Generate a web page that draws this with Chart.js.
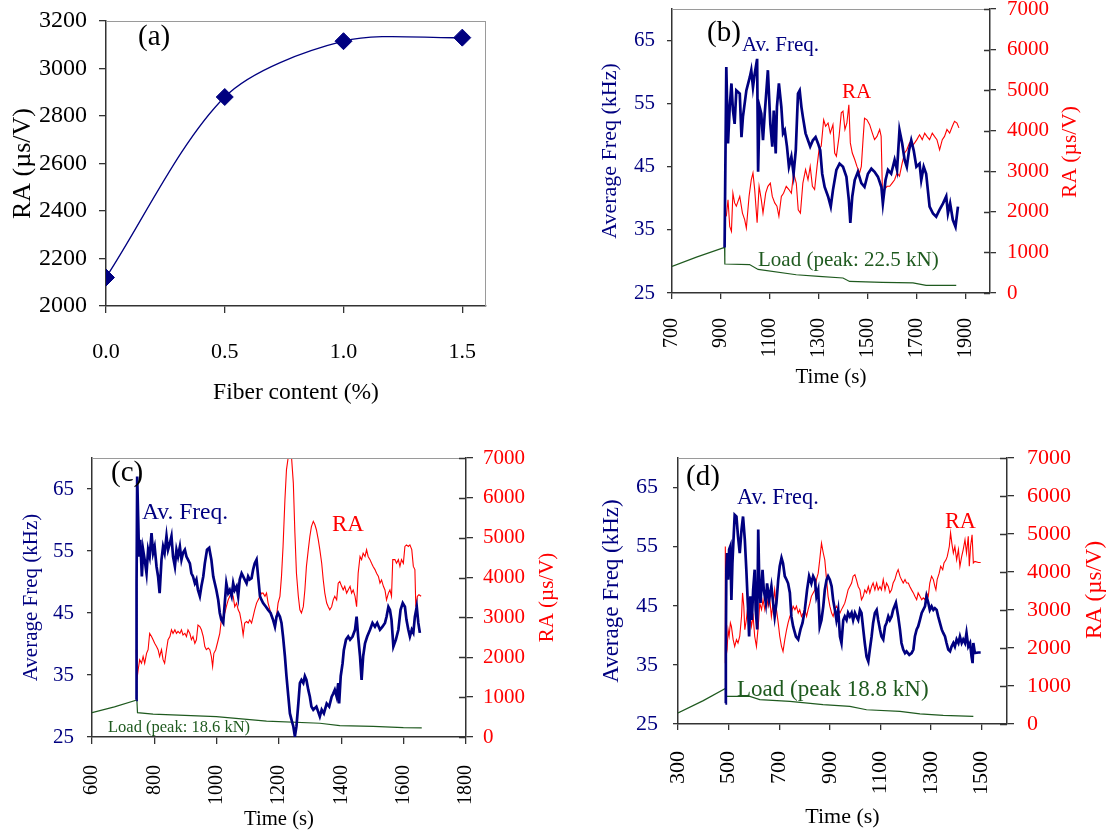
<!DOCTYPE html>
<html><head><meta charset="utf-8">
<script src="https://cdn.jsdelivr.net/npm/chart.js@4.4.1/dist/chart.umd.min.js"></script>
<style>
html,body{margin:0;padding:0;background:#fff;width:1107px;height:837px;overflow:hidden;}
canvas{position:absolute;}
</style></head><body>
<canvas id="ca" width="560" height="420" style="left:0;top:0"></canvas>
<canvas id="cb" width="517" height="400" style="left:590px;top:0"></canvas>
<canvas id="cc" width="590" height="392" style="left:0;top:445px"></canvas>
<canvas id="cd" width="517" height="392" style="left:590px;top:445px"></canvas>
<script>
// ---------- data ----------
const aFiber = [0.0, 0.5, 1.0, 1.5];
const aRA = [2120, 2880, 3115, 3130];
const aXTicks = [0, 0.5, 1.0, 1.5];
const aYTicks = [2000, 2200, 2400, 2600, 2800, 3000, 3200];
const freqTicks = [25, 35, 45, 55, 65];
const raTicks = [0, 1000, 2000, 3000, 4000, 5000, 6000, 7000];
const bXTicks = [700, 900, 1100, 1300, 1500, 1700, 1900];
const cXTicks = [600, 800, 1000, 1200, 1400, 1600, 1800];
const dXTicks = [300, 500, 700, 900, 1100, 1300, 1500];

// panel (b): [time s, value]
const bFreq = [[915,32.2],[922,60.8],[929,48.7],[936,54.5],[943,58.2],[949,54.0],[956,51.8],[963,57.1],[977,56.6],[984,49.7],[990,52.9],[1004,57.1],[1018,59.2],[1024,60.3],[1031,57.6],[1038,59.7],[1048,62.1],[1052,44.2],[1058,54.5],[1065,53.4],[1072,49.2],[1079,53.4],[1086,57.1],[1092,60.3],[1102,51.8],[1110,48.2],[1116,53.9],[1124,47.1],[1129,54.5],[1137,58.2],[1147,54.5],[1154,50.3],[1161,50.8],[1170,48.2],[1178,45.0],[1188,46.6],[1197,43.9],[1206,47.6],[1215,56.6],[1222,57.1],[1229,54.5],[1235,52.9],[1246,50.3],[1256,49.2],[1265,48.2],[1276,49.2],[1287,49.7],[1297,48.7],[1306,47.6],[1314,43.9],[1324,41.8],[1338,40.3],[1349,38.7],[1358,41.3],[1372,44.5],[1385,45.5],[1399,45.0],[1413,43.4],[1423,39.7],[1429,36.1],[1437,40.3],[1447,42.9],[1460,44.2],[1474,42.4],[1487,41.8],[1501,43.9],[1515,44.7],[1528,44.2],[1542,43.4],[1556,41.8],[1562,39.2],[1573,42.9],[1583,44.5],[1596,43.9],[1610,46.1],[1620,44.5],[1630,50.8],[1641,48.7],[1651,46.1],[1660,45.0],[1669,47.6],[1678,49.2],[1688,47.6],[1699,45.0],[1712,45.5],[1719,42.9],[1729,45.0],[1739,43.9],[1746,41.3],[1753,38.7],[1767,37.6],[1780,37.1],[1794,38.2],[1808,39.2],[1821,40.3],[1828,37.6],[1837,39.2],[1848,36.6],[1859,35.5],[1869,38.7]];
const bRA = [[922,1890],[929,2300],[936,1640],[943,1520],[949,2460],[956,2220],[963,2140],[977,2380],[988,1970],[997,1810],[1004,1600],[1015,2380],[1024,2790],[1031,2960],[1038,2550],[1048,1730],[1056,2630],[1065,2300],[1072,1970],[1083,2460],[1092,2630],[1102,2710],[1110,2380],[1120,2220],[1129,2140],[1137,1890],[1147,2380],[1156,2460],[1167,2630],[1178,2550],[1188,2460],[1197,2960],[1208,2710],[1216,2050],[1225,1970],[1235,2710],[1246,3040],[1256,2790],[1265,3120],[1274,2630],[1283,2550],[1293,3120],[1301,3530],[1310,3620],[1320,4270],[1328,4110],[1338,4190],[1347,3940],[1358,4150],[1365,3450],[1372,3370],[1383,3860],[1392,4440],[1399,4480],[1407,4030],[1415,4190],[1423,4640],[1429,3700],[1437,3450],[1447,3290],[1456,3120],[1467,2960],[1474,3120],[1481,3780],[1487,4310],[1497,4270],[1508,4150],[1519,3940],[1528,3780],[1538,3860],[1549,4030],[1555,3860],[1560,2550],[1569,2550],[1579,2630],[1590,2630],[1600,2710],[1610,2790],[1620,2960],[1630,2880],[1641,3200],[1651,3450],[1660,3530],[1671,3700],[1682,3620],[1692,3700],[1701,3780],[1712,3900],[1723,3780],[1733,3940],[1742,3860],[1753,3780],[1764,3940],[1773,3860],[1783,3780],[1794,3530],[1805,3780],[1814,3860],[1824,4030],[1835,3940],[1846,4110],[1855,4230],[1865,4190],[1873,4070]];
const bLoad = [[700,13.1],[800,17.7],[915,22.5],[916,14.3],[1017,14.0],[1052,11.6],[1208,9.0],[1300,8.2],[1399,7.4],[1426,5.7],[1560,5.2],[1685,5.0],[1739,3.8],[1862,3.8]];

// panel (c)
const cFreq = [[742,31.0],[743,50.0],[745,67.0],[748,60.6],[751,54.1],[755,56.8],[760,50.9],[764,55.2],[769,53.6],[775,51.4],[780,55.2],[785,54.1],[791,57.9],[796,54.7],[801,55.7],[807,52.5],[812,50.9],[817,48.2],[823,53.6],[828,55.7],[833,54.7],[839,57.4],[844,55.2],[850,56.3],[855,57.4],[860,54.1],[866,52.5],[871,55.2],[876,54.1],[882,55.7],[887,53.6],[892,54.7],[898,55.2],[903,54.1],[908,53.6],[914,53.0],[919,51.4],[924,50.9],[930,49.8],[935,50.4],[940,48.7],[946,47.7],[951,49.3],[957,50.9],[962,53.0],[969,55.2],[976,55.5],[983,53.6],[989,50.9],[994,49.8],[999,48.7],[1005,47.1],[1010,45.0],[1015,43.9],[1021,43.4],[1026,46.6],[1031,49.8],[1037,48.2],[1042,48.7],[1048,47.7],[1053,49.8],[1058,48.7],[1064,49.3],[1069,47.7],[1074,50.4],[1080,51.4],[1085,50.9],[1090,50.4],[1096,49.8],[1101,50.9],[1106,50.4],[1112,50.6],[1117,52.0],[1122,53.0],[1128,53.6],[1133,50.9],[1139,47.7],[1144,47.1],[1149,46.6],[1158,46.0],[1165,45.5],[1173,45.0],[1181,43.9],[1187,42.8],[1192,44.4],[1197,45.0],[1203,44.4],[1208,43.4],[1213,41.2],[1219,38.0],[1224,34.8],[1230,31.5],[1235,28.8],[1240,27.8],[1246,26.7],[1251,25.1],[1256,26.7],[1262,30.4],[1267,33.7],[1272,34.2],[1278,33.7],[1283,34.8],[1288,34.2],[1294,32.6],[1299,31.5],[1304,29.9],[1310,29.4],[1320,29.9],[1331,28.3],[1337,29.4],[1344,28.8],[1353,30.4],[1361,29.9],[1369,31.5],[1374,32.0],[1379,32.6],[1385,31.5],[1390,33.7],[1393,30.4],[1398,34.8],[1404,36.9],[1408,39.0],[1415,40.7],[1422,41.2],[1428,40.7],[1436,41.2],[1444,42.3],[1449,44.4],[1454,41.2],[1460,38.0],[1465,34.2],[1470,38.0],[1476,40.1],[1483,41.2],[1492,42.3],[1500,43.4],[1508,42.8],[1515,43.4],[1524,42.3],[1532,42.8],[1540,43.4],[1545,44.4],[1551,46.0],[1556,45.5],[1561,43.9],[1567,39.6],[1575,40.7],[1583,42.3],[1590,45.5],[1597,46.6],[1604,46.0],[1609,43.9],[1615,42.3],[1620,41.2],[1626,42.3],[1631,41.8],[1636,44.4],[1642,46.0],[1647,43.4],[1652,41.8]];
const cRA = [[742,2190],[744,1430],[748,1680],[753,1940],[759,1850],[764,2020],[769,1850],[775,2100],[780,2190],[785,2600],[791,2520],[796,2440],[801,2350],[807,2270],[812,2190],[817,2020],[823,2190],[828,1940],[833,1850],[839,2190],[844,2440],[850,2520],[855,2690],[860,2600],[866,2690],[871,2600],[876,2650],[882,2600],[887,2690],[892,2560],[898,2600],[903,2520],[908,2690],[914,2600],[919,2440],[924,2520],[930,2350],[935,2440],[940,2810],[946,2770],[951,2690],[957,2520],[962,2270],[967,2190],[973,2230],[978,2190],[983,2020],[987,1770],[991,2100],[997,2190],[1005,2440],[1010,2600],[1015,2940],[1021,3020],[1026,3110],[1031,3270],[1037,3440],[1042,3530],[1048,3610],[1053,3530],[1058,3270],[1064,3360],[1069,3190],[1074,3110],[1080,2860],[1085,2560],[1090,2860],[1096,2900],[1101,2860],[1106,2940],[1112,2860],[1117,3020],[1122,3190],[1128,3360],[1133,3440],[1139,3530],[1144,3610],[1149,3610],[1155,3530],[1160,3610],[1165,3360],[1171,3190],[1176,3020],[1181,2940],[1187,2860],[1192,3020],[1197,3360],[1203,3530],[1208,4030],[1213,4780],[1219,5950],[1224,6710],[1230,7040],[1235,7130],[1240,7040],[1246,6370],[1251,5120],[1256,4110],[1262,3530],[1267,3190],[1272,3110],[1278,3270],[1283,3690],[1288,4280],[1294,4700],[1299,5030],[1304,5280],[1310,5410],[1315,5330],[1320,5200],[1326,4950],[1331,4700],[1337,4360],[1342,3940],[1347,3610],[1353,3360],[1358,3270],[1363,3190],[1369,3270],[1374,3440],[1379,3530],[1385,3440],[1390,3860],[1395,3900],[1401,3780],[1406,3690],[1411,3780],[1417,3610],[1422,3690],[1428,3780],[1433,3610],[1438,3690],[1444,3530],[1449,3270],[1454,4110],[1460,4530],[1465,4450],[1470,4610],[1476,4530],[1481,4700],[1486,4530],[1492,4450],[1497,4360],[1502,4280],[1508,4200],[1513,4110],[1519,4030],[1524,3860],[1529,3940],[1535,3780],[1540,3690],[1545,3440],[1551,3610],[1556,3690],[1561,3530],[1565,4450],[1572,4450],[1577,4360],[1583,4450],[1588,4280],[1593,4450],[1599,4360],[1604,4780],[1609,4820],[1615,4780],[1620,4820],[1626,4700],[1631,4280],[1636,4200],[1639,3270],[1644,3530],[1649,3570],[1656,3530]];
const cLoad = [[600,12.2],[672,15.1],[744,18.6],[746,12.2],[796,11.5],[999,10.2],[1160,8.0],[1331,6.9],[1395,5.7],[1502,5.3],[1599,4.7],[1658,4.6]];

// panel (d)
const dFreq = [[487,28.5],[489,37.6],[491,51.1],[494,53.9],[498,49.4],[502,54.5],[507,55.1],[511,46.0],[515,52.2],[520,56.8],[524,60.4],[531,60.1],[537,56.8],[544,53.9],[551,57.9],[557,60.1],[564,56.2],[570,51.1],[577,44.3],[581,39.8],[586,46.6],[592,42.6],[597,47.7],[603,51.1],[607,44.3],[613,41.0],[617,57.9],[621,49.4],[626,45.5],[634,51.1],[639,47.7],[647,45.5],[652,48.8],[660,46.0],[669,48.3],[676,45.5],[682,43.2],[689,45.5],[696,49.4],[702,51.7],[709,53.1],[715,52.2],[722,50.0],[729,49.4],[735,48.8],[742,47.2],[748,43.2],[755,41.5],[766,39.8],[775,39.3],[784,41.0],[792,42.1],[801,44.3],[810,47.7],[818,50.0],[827,48.8],[834,50.0],[841,49.4],[847,46.6],[854,47.7],[860,41.5],[867,42.6],[874,44.9],[880,47.7],[887,49.4],[893,50.0],[900,49.4],[907,48.3],[913,46.0],[920,44.3],[926,42.6],[933,44.3],[940,39.8],[946,38.7],[953,42.6],[959,43.2],[966,42.6],[972,43.8],[979,43.2],[986,43.8],[992,42.6],[999,43.8],[1005,43.2],[1012,42.6],[1019,44.3],[1025,43.8],[1032,41.0],[1038,38.7],[1045,36.4],[1052,35.6],[1058,37.6],[1065,39.8],[1071,42.1],[1078,43.8],[1085,44.3],[1091,42.6],[1098,41.0],[1104,39.8],[1111,39.3],[1118,41.5],[1124,42.1],[1131,43.2],[1137,42.6],[1144,43.2],[1150,44.3],[1161,45.5],[1170,43.2],[1177,41.0],[1183,38.7],[1190,37.6],[1197,37.0],[1203,37.3],[1214,36.7],[1223,37.0],[1230,37.6],[1236,39.8],[1243,41.0],[1249,41.5],[1256,42.6],[1263,43.8],[1269,44.3],[1276,44.9],[1282,46.6],[1289,45.5],[1295,44.3],[1302,44.9],[1309,44.3],[1315,44.6],[1322,44.3],[1328,43.2],[1335,42.1],[1342,41.0],[1348,40.4],[1355,39.8],[1361,38.7],[1368,37.6],[1375,37.3],[1381,38.1],[1388,38.7],[1394,38.1],[1401,39.3],[1408,38.7],[1414,39.8],[1421,38.7],[1427,39.3],[1434,38.7],[1440,40.4],[1447,38.1],[1454,38.7],[1460,36.4],[1464,35.3],[1467,38.7],[1473,37.0],[1487,37.1],[1496,37.1]];
const dRA = [[486,1600],[487,4670],[490,1780],[494,1960],[498,2480],[502,2310],[507,2660],[511,2570],[518,2220],[524,2040],[531,2220],[537,2130],[544,2310],[551,2830],[555,3450],[560,3100],[564,2480],[570,2740],[577,3180],[584,2920],[590,2570],[597,2830],[603,2310],[610,2040],[617,2570],[623,3180],[630,3010],[636,3270],[643,3010],[650,3360],[656,3100],[663,3270],[669,2830],[676,3180],[682,3530],[689,3010],[696,2660],[702,2310],[709,2040],[715,1910],[722,2220],[729,2480],[735,2660],[742,2830],[748,2920],[755,3100],[762,3010],[768,3100],[775,2920],[781,3010],[788,2830],[795,2920],[801,3010],[808,2830],[814,3010],[821,3180],[827,3360],[834,3450],[841,3530],[847,3800],[854,3970],[860,4320],[867,4760],[874,4500],[880,4320],[887,3800],[893,3360],[900,3100],[907,2920],[913,2830],[920,3010],[926,3100],[933,3010],[940,2920],[946,3010],[953,3100],[959,3180],[966,3360],[972,3530],[979,3620],[986,3710],[992,3890],[999,3930],[1005,3800],[1012,3620],[1019,3530],[1025,3270],[1032,3360],[1038,3530],[1045,3450],[1052,3620],[1058,3450],[1065,3620],[1071,3710],[1078,3530],[1085,3710],[1091,3530],[1098,3620],[1104,3530],[1111,3800],[1118,3530],[1124,3710],[1131,3620],[1137,3450],[1144,3530],[1150,3710],[1157,3800],[1164,3970],[1170,4060],[1177,3890],[1183,3800],[1190,3710],[1197,3800],[1203,3710],[1210,3710],[1216,3620],[1223,3530],[1230,3450],[1236,3360],[1243,3270],[1249,3450],[1256,3360],[1263,3270],[1269,3320],[1276,3270],[1282,3450],[1289,3360],[1295,3710],[1302,3890],[1309,3800],[1315,3620],[1319,3530],[1324,3800],[1332,3970],[1338,4150],[1346,4060],[1351,4240],[1359,4320],[1364,4410],[1372,4670],[1377,5030],[1382,4760],[1388,4500],[1394,4670],[1401,4320],[1408,4590],[1414,4150],[1421,4410],[1427,4590],[1434,4850],[1440,4500],[1447,4940],[1451,4150],[1456,4670],[1462,4980],[1467,4240],[1473,4280],[1487,4250],[1496,4250]];
const dLoad = [[300,5.8],[400,12.3],[489,18.8],[492,14.5],[584,14.5],[623,12.8],[742,11.9],[873,10.2],[979,9.3],[1045,7.5],[1177,6.6],[1256,5.3],[1348,4.5],[1467,4.0]];

// ---------- styling ----------
const FONT = "'Liberation Serif','Times New Roman',serif";
const NAVY = '#000080', RED = '#ff0000', GREEN = '#1f5a1f', AX = '#333333', FRAME = '#9a9a9a';
const fixedTicks = arr => s => { s.ticks = arr.map(v => ({value: v})); };
const zeroPad = s => { s.paddingTop = 0; s.paddingBottom = 0; s.paddingLeft = 0; s.paddingRight = 0; };
const pts = arr => arr.map(p => ({x: p[0], y: p[1]}));

const framePlugin = {
  id: 'frame',
  afterDraw(chart, args, o) {
    const ctx = chart.ctx, a = chart.chartArea;
    ctx.save();
    ctx.strokeStyle = FRAME; ctx.lineWidth = 1;
    ctx.beginPath();
    ctx.moveTo(a.left, a.top + 0.5); ctx.lineTo(a.right, a.top + 0.5);
    if (o.rightFrame) { ctx.moveTo(a.right - 0.5, a.top); ctx.lineTo(a.right - 0.5, a.bottom); }
    ctx.stroke();
    if (o.innerTicks) {
      const s = chart.scales[o.innerTicks];
      ctx.strokeStyle = AX; ctx.lineWidth = 1.3;
      ctx.beginPath();
      s.ticks.forEach(t => { const y = Math.round(s.getPixelForValue(t.value)) + 0.5; ctx.moveTo(s.left - o.innerLen, y); ctx.lineTo(s.left, y); });
      ctx.stroke();
    }
    (o.texts || []).forEach(t => {
      ctx.save();
      ctx.font = t.size + 'px ' + FONT;
      ctx.fillStyle = t.color || '#000';
      ctx.textBaseline = 'middle';
      ctx.textAlign = t.rot ? 'center' : 'left';
      ctx.translate(t.x, t.y);
      if (t.rot) ctx.rotate(-Math.PI / 2);
      ctx.fillText(t.text, 0, 0);
      ctx.restore();
    });
    ctx.restore();
  }
};

// ---------- panel (a) ----------
new Chart(document.getElementById('ca'), {
  type: 'line',
  data: {datasets: [{
    data: aFiber.map((x, i) => ({x: x, y: aRA[i]})),
    borderColor: NAVY, borderWidth: 1.3, tension: 0.3,
    pointStyle: 'rectRot', pointRadius: 8.5, pointBackgroundColor: NAVY, pointBorderColor: NAVY, pointBorderWidth: 1
  }]},
  options: {
    responsive: false, animation: false, devicePixelRatio: 1,
    layout: {padding: {top: 21, right: 74, left: 0, bottom: 0}},
    plugins: {legend: {display: false}, tooltip: {enabled: false},
      frame: {rightFrame: true, texts: [{text: '(a)', x: 138, y: 37.5, size: 29, color: '#000'}]}},
    scales: {
      x: {type: 'linear', min: 0, max: 1.6, bounds: 'data', afterBuildTicks: fixedTicks(aXTicks),
        ticks: {autoSkip: false, maxRotation: 0, minRotation: 0, padding: 26, color: '#000', font: {family: FONT, size: 22}, callback: v => Number(v).toFixed(1)},
        grid: {drawOnChartArea: false, tickLength: 7, color: AX, lineWidth: 1.3},
        border: {color: AX, width: 1.5},
        title: {display: true, text: 'Fiber content (%)', color: '#000', font: {family: FONT, size: 23.5}, padding: {top: 0, bottom: 13}},
        afterFit: s => { s.height = 114; zeroPad(s); }},
      y: {type: 'linear', min: 2000, max: 3200, bounds: 'data', afterBuildTicks: fixedTicks(aYTicks),
        ticks: {padding: 12, color: '#000', font: {family: FONT, size: 24}, callback: v => String(v)},
        grid: {drawOnChartArea: false, tickLength: 7, color: AX, lineWidth: 1.3},
        border: {color: AX, width: 1.5},
        title: {display: true, text: 'RA (µs/V)', color: '#000', font: {family: FONT, size: 26}, padding: {top: 8, bottom: 0}},
        afterFit: s => { s.width = 106; zeroPad(s); }}
    }
  },
  plugins: [framePlugin]
});

// ---------- panels (b)(c)(d) ----------
function panel(id, c) {
  return new Chart(document.getElementById(id), {
    type: 'line',
    data: {datasets: [
      {data: pts(c.freq), yAxisID: 'y', borderColor: NAVY, borderWidth: 2.7, pointRadius: 0, tension: 0},
      {data: pts(c.ra), yAxisID: 'y2', borderColor: RED, borderWidth: 1.1, pointRadius: 0, tension: 0},
      {data: pts(c.load), yAxisID: 'yL', borderColor: GREEN, borderWidth: 1.2, pointRadius: 0, tension: 0}
    ]},
    options: {
      responsive: false, animation: false, devicePixelRatio: 1,
      layout: {padding: {top: c.top, left: 0, right: 0, bottom: 0}},
      plugins: {legend: {display: false}, tooltip: {enabled: false},
        frame: {texts: c.texts, innerTicks: 'y2', innerLen: c.y2Len}},
      scales: {
        x: {type: 'linear', min: c.xMin, max: c.xMax, bounds: 'data', afterBuildTicks: fixedTicks(c.xTicks),
          ticks: {autoSkip: false, minRotation: 90, maxRotation: 90, padding: c.xPad, color: '#000', font: {family: FONT, size: c.xFont}, callback: v => String(v)},
          grid: {drawOnChartArea: false, tickLength: c.xLen, color: AX, lineWidth: 1.3},
          border: {color: AX, width: 1.5},
          title: {display: true, text: 'Time (s)', color: '#000', font: {family: FONT, size: c.xtFont}, padding: {top: 0, bottom: c.xtPad}},
          afterFit: s => { s.height = c.xH; zeroPad(s); }},
        y: {type: 'linear', position: 'left', min: 25, max: 70, bounds: 'data', afterBuildTicks: fixedTicks(freqTicks),
          ticks: {padding: c.yPad, color: NAVY, font: {family: FONT, size: c.yFont}, callback: v => String(v)},
          grid: {drawOnChartArea: false, tickLength: 5, color: AX, lineWidth: 1.3},
          border: {color: AX, width: 1.5},
          title: {display: true, text: 'Average Freq (kHz)', color: NAVY, font: {family: FONT, size: c.ytFont}, padding: {top: c.ytPad, bottom: 0}},
          afterFit: s => { s.width = c.yW; zeroPad(s); }},
        y2: {type: 'linear', position: 'right', min: 0, max: 7000, bounds: 'data', afterBuildTicks: fixedTicks(raTicks),
          ticks: {padding: c.y2Pad, color: RED, font: {family: FONT, size: c.y2Font}, callback: v => String(v)},
          grid: {drawOnChartArea: false, tickLength: c.y2Len, color: AX, lineWidth: 1.3},
          border: {color: AX, width: 1.5},
          afterFit: s => { s.width = c.y2W; zeroPad(s); }},
        yL: {type: 'linear', display: false, min: 0, max: 140}
      }
    },
    plugins: [framePlugin]
  });
}

panel('cb', {
  freq: bFreq, ra: bRA, load: bLoad, xMin: 700, xMax: 2000, xTicks: bXTicks,
  top: 9, yW: 82, y2W: 117, xH: 107,
  xPad: 19, xFont: 20, xLen: 6, xtFont: 21, xtPad: 10,
  yPad: 12, yFont: 21, ytFont: 22, ytPad: 7,
  y2Pad: 11, y2Font: 21, y2Len: 6,
  texts: [
    {text: '(b)', x: 117, y: 33, size: 29, color: '#000'},
    {text: 'Av. Freq.', x: 152, y: 45, size: 21, color: NAVY},
    {text: 'RA', x: 252, y: 92, size: 21, color: RED},
    {text: 'Load (peak: 22.5 kN)', x: 168, y: 260, size: 21, color: GREEN},
    {text: 'RA (µs/V)', x: 480, y: 152, size: 21.5, color: RED, rot: true}
  ]
});

panel('cc', {
  freq: cFreq, ra: cRA, load: cLoad, xMin: 600, xMax: 1800, xTicks: cXTicks,
  top: 13, yW: 92, y2W: 124, xH: 100,
  xPad: 21, xFont: 20, xLen: 7, xtFont: 20.7, xtPad: 4.6,
  yPad: 13, yFont: 21, ytFont: 21, ytPad: 19,
  y2Pad: 10, y2Font: 21, y2Len: 7,
  texts: [
    {text: '(c)', x: 111, y: 28, size: 29, color: '#000'},
    {text: 'Av. Freq.', x: 142, y: 68, size: 23.5, color: NAVY},
    {text: 'RA', x: 332, y: 80, size: 23, color: RED},
    {text: 'Load (peak: 18.6 kN)', x: 108, y: 283, size: 16.5, color: GREEN},
    {text: 'RA (µs/V)', x: 547, y: 152.5, size: 21, color: RED, rot: true}
  ]
});

panel('cd', {
  freq: dFreq, ra: dRA, load: dLoad, xMin: 300, xMax: 1600, xTicks: dXTicks,
  top: 13, yW: 88, y2W: 100, xH: 113,
  xPad: 21, xFont: 22, xLen: 6, xtFont: 22, xtPad: 7,
  yPad: 15, yFont: 22, ytFont: 23, ytPad: 8,
  y2Pad: 13, y2Font: 22, y2Len: 7,
  texts: [
    {text: '(d)', x: 96, y: 32, size: 29, color: '#000'},
    {text: 'Av. Freq.', x: 147, y: 53, size: 22.3, color: NAVY},
    {text: 'RA', x: 355, y: 77, size: 22.3, color: RED},
    {text: 'Load (peak 18.8 kN)', x: 147, y: 245, size: 23, color: GREEN},
    {text: 'RA (µs/V)', x: 505, y: 145, size: 23, color: RED, rot: true}
  ]
});
</script>
</body></html>
